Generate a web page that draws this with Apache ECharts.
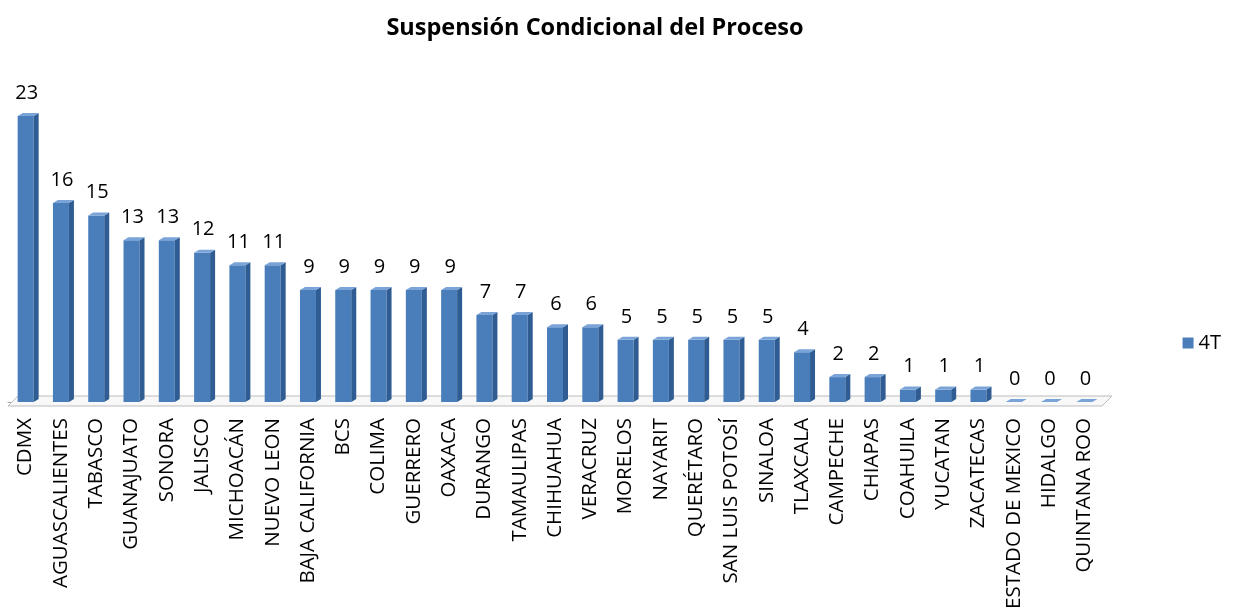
<!DOCTYPE html>
<html>
<head>
<meta charset="utf-8">
<script src="https://cdn.jsdelivr.net/npm/echarts@6/dist/echarts.min.js"></script>
<style>
  html, body { margin: 0; padding: 0; background: #fff; }
  #chart { width: 1244px; height: 613px; }
</style>
</head>
<body>
<div id="chart"></div>
<script>
// estados
var estados = ['CDMX', 'AGUASCALIENTES', 'TABASCO', 'GUANAJUATO', 'SONORA', 'JALISCO',
  'MICHOACÁN', 'NUEVO LEON', 'BAJA CALIFORNIA', 'BCS', 'COLIMA', 'GUERRERO', 'OAXACA',
  'DURANGO', 'TAMAULIPAS', 'CHIHUAHUA', 'VERACRUZ', 'MORELOS', 'NAYARIT', 'QUERÉTARO',
  'SAN LUIS POTOSÍ', 'SINALOA', 'TLAXCALA', 'CAMPECHE', 'CHIAPAS', 'COAHUILA', 'YUCATAN',
  'ZACATECAS', 'ESTADO DE MEXICO', 'HIDALGO', 'QUINTANA ROO'];
// valores 4T
var valores4T = [23, 16, 15, 13, 13, 12, 11, 11, 9, 9, 9, 9, 9, 7, 7, 6, 6, 5, 5, 5, 5, 5, 4, 2, 2, 1, 1, 1, 0, 0, 0];

var frente = '#4A7EBB';
var lado = '#2E5C93';
var arriba = '#7AA3D8';

var myChart = echarts.init(document.getElementById('chart'));

// barras con efecto 3D
function barra3D(params, api) {
  var idx = api.value(0);
  var base = api.coord([idx, 0]);
  var tope = api.coord([idx, api.value(1)]);
  var w = 16, d = 5, h = 3;
  var x0 = base[0] - w / 2;
  var hijos = [];
  // piso (solo una vez)
  if (params.dataIndex === 0) {
    var cs = params.coordSys;
    var yb = cs.y + cs.height;
    hijos.push({
      type: 'polygon',
      shape: { points: [[cs.x, yb + 4], [cs.x + cs.width, yb + 4], [cs.x + cs.width + 10, yb - 6], [cs.x + 10, yb - 6]] },
      style: { fill: '#f8f8f8', stroke: '#bcbcbc', lineWidth: 1 },
      z2: 0
    });
  }
  hijos.push({
    type: 'rect',
    shape: { x: x0, y: tope[1], width: w, height: base[1] - tope[1] },
    style: { fill: frente },
    z2: 2
  });
  hijos.push({
    type: 'polygon',
    shape: { points: [[x0 + w, tope[1]], [x0 + w + d, tope[1] - h], [x0 + w + d, base[1] - h], [x0 + w, base[1]]] },
    style: { fill: lado },
    z2: 2
  });
  hijos.push({
    type: 'polygon',
    shape: { points: [[x0, tope[1]], [x0 + d, tope[1] - h], [x0 + w + d, tope[1] - h], [x0 + w, tope[1]]] },
    style: { fill: arriba },
    z2: 2
  });
  hijos.push({
    type: 'text',
    style: {
      text: String(api.value(1)),
      x: base[0] + 1, y: tope[1] - 13,
      align: 'center', verticalAlign: 'bottom',
      fill: '#000', font: '20px "Open Sans", sans-serif'
    },
    z2: 3
  });
  return { type: 'group', children: hijos };
}

var option = {
  backgroundColor: '#fff',
  animation: false,
  title: {
    text: 'Suspensión Condicional del Proceso',
    left: 590,
    top: 11,
    textAlign: 'center',
    textStyle: { fontFamily: 'Open Sans', fontWeight: 'bold', fontSize: 23.5, color: '#000' }
  },
  legend: {
    right: 18,
    top: 328,
    itemWidth: 11,
    itemHeight: 11,
    itemGap: 5,
    icon: 'rect',
    textStyle: { fontFamily: 'Open Sans', fontSize: 20, color: '#000' },
    data: [{ name: '4T', itemStyle: { color: frente } }]
  },
  grid: { left: 8, right: 142, top: 91, bottom: 211 },
  xAxis: {
    type: 'category',
    data: estados,
    offset: 4,
    axisLine: { lineStyle: { color: '#a6a6a6' } },
    axisTick: { length: 7, lineStyle: { color: '#a6a6a6' } },
    axisLabel: {
      rotate: 90, interval: 0, margin: 12,
      fontFamily: 'Open Sans', fontSize: 20.5, color: '#000'
    }
  },
  yAxis: {
    type: 'value', min: 0, max: 25,
    show: false,
    splitLine: { show: false }
  },
  series: [{
    name: '4T',
    type: 'custom',
    renderItem: barra3D,
    itemStyle: { color: frente },
    encode: { x: 0, y: 1 },
    data: valores4T.map(function (v, i) { return [i, v]; })
  }]
};

myChart.setOption(option);
</script>
</body>
</html>
